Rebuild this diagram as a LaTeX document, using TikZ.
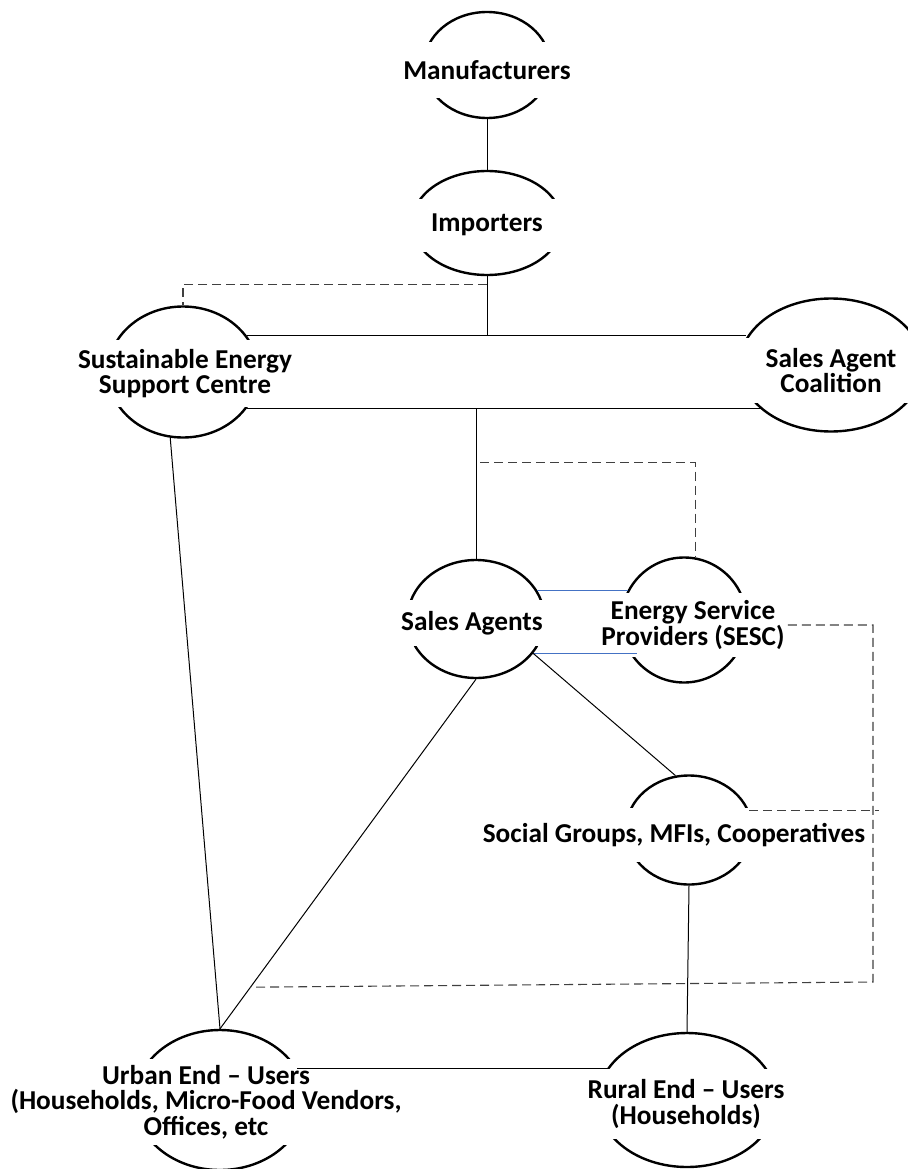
\documentclass[tikz,border=0pt]{standalone}
\usepackage{fontspec}
\setmainfont{Carlito}
\usetikzlibrary{shapes.geometric,calc}
\definecolor{wordblue}{HTML}{4472C4}
\newcommand\bandfont{\fontsize{27.3}{23.5}\selectfont\bfseries}
\newcommand\wideband{\fontsize{27.3}{25.5}\selectfont\bfseries}
\tikzset{
oval/.style={ellipse,draw=black,line width=2.4pt,fill=white,inner sep=0pt},
band/.style={fill=white,align=center,inner xsep=3pt,inner ysep=0pt,font=\bandfont},
link/.style={draw=black,line width=1pt},
dashlink/.style={draw=black!75,line width=1.1pt,dash pattern=on 9pt off 5pt},
bluelink/.style={draw=wordblue,line width=1.3pt}
}

\begin{document}
\begin{tikzpicture}[x=1pt,y=-1pt]
\useasboundingbox (0,0) rectangle (907,1169);
\node[oval,minimum width=126pt,minimum height=106pt] (mfr) at (487,65) {};
\node[oval,minimum width=150pt,minimum height=104pt] (imp) at (487,223) {};
\node[oval,minimum width=150pt,minimum height=131pt] (sesc) at (183,372) {};
\node[oval,minimum width=183pt,minimum height=133pt] (sac) at (831,365) {};
\node[oval,minimum width=137pt,minimum height=118pt] (sa) at (476,619) {};
\node[oval,minimum width=125pt,minimum height=125pt] (esp) at (684,620) {};
\node[oval,minimum width=126pt,minimum height=109pt] (sg) at (689,830) {};
\node[oval,minimum width=170pt,minimum height=140pt] (urb) at (220,1100) {};
\node[oval,minimum width=178pt,minimum height=134pt] (rur) at (687,1100) {};
\node[band,minimum height=56pt] (mfr-txt) at (487,70) {Manufacturers};
\node[band,minimum height=53pt,minimum width=160pt] (imp-txt) at (487,225) {Importers};
\node[band,minimum height=67pt,font=\wideband] (sesc-txt) at (185,373.5) {Sustainable Energy\\Support Centre};
\node[band,minimum height=65pt,minimum width=190pt] (sac-txt) at (831,370.5) {Sales Agent\\Coalition};
\node[band,minimum height=46pt,minimum width=146pt] (sa-txt) at (472,623) {Sales Agents};
\node[band,minimum height=64pt] (esp-txt) at (693,625) {Energy Service\\Providers (SESC)};
\node[band,minimum height=54pt] (sg-txt) at (674,835) {Social Groups, MFIs, Cooperatives};
\node[band,minimum height=86pt,font=\wideband] (urb-txt) at (206,1102) {Urban End – Users\\(Households, Micro-Food Vendors,\\Offices, etc};
\node[band,minimum height=70pt,font=\wideband] (rur-txt) at (686,1104) {Rural End – Users\\(Households)};
\coordinate (loop-se) at (873,982);
\draw[link] (mfr) -- (imp);
\draw[link] (imp) -- (imp.south |- sesc.30);
\draw[link] (sesc.30) -- (sesc.30 -| sac.162);
\draw[link] (sesc.-30) -- (sesc.-30 -| sac.212);
\draw[link] (sa) -- (sa.north |- sesc.-30);
\draw[dashlink] ([yshift=-8pt]imp.south) -| (sesc.north);
\draw[dashlink] ([shift={(4pt,96pt)}]sa.north) -| (esp.80);
\draw[bluelink] (sa.25) -- (sa.25 -| esp.152);
\draw[bluelink] (sa.-31) -- ([xshift=17pt]sa.-31 -| esp.west);
\draw[link] (sa.-31) -- (sg.104);
\draw[link] (sa.south) -- (urb.north);
\draw[link] (sesc.259) -- (urb.north);
\draw[link] (sg.south) -- (rur.north);
\draw[link] (urb.22) -- (urb.22 -| rur.158);
\draw[dashlink] (esp-txt.east) -| (loop-se) -- ($(sa.south)!.881!(urb.north)$);
\draw[dashlink] (sg.18) -- ([xshift=6pt]sg.18 -| loop-se);
\end{tikzpicture}
\end{document}
